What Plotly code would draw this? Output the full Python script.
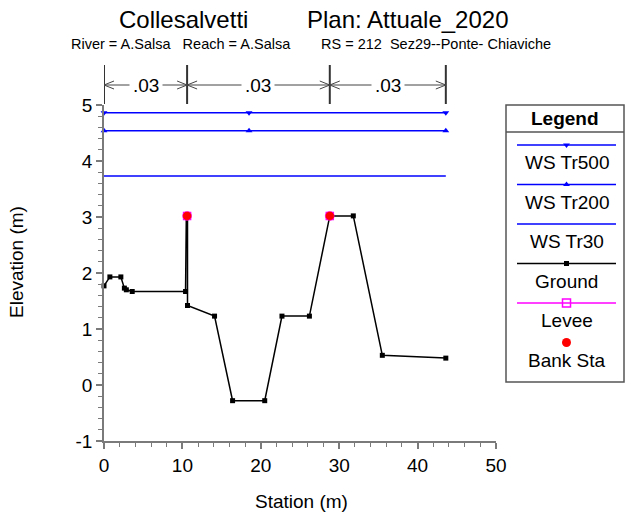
import plotly.graph_objects as go

W, H = 629, 517
FONT = "Liberation Sans, Arial, sans-serif"

# ---- cross-section data ----
ground_sta = [0, 0.75, 2.15, 2.6, 2.85, 3.6, 10.4, 10.5, 10.65, 10.65, 14.1,
              16.4, 20.5, 22.7, 26.2, 28.8, 31.8, 35.5, 43.6]
ground_elev = [1.77, 1.93, 1.93, 1.73, 1.70, 1.67, 1.67, 3.02, 3.02, 1.42, 1.23,
               -0.28, -0.28, 1.23, 1.23, 3.02, 3.02, 0.53, 0.48]

bank_sta = [10.6, 28.8]
bank_elev = [3.02, 3.02]
levee_sta = [10.6, 28.8]
levee_elev = [3.02, 3.02]

ws_sta = [0, 18.5, 43.6]
ws_tr500 = [4.86, 4.86, 4.86]
ws_tr200 = [4.54, 4.54, 4.54]
ws_tr30 = [3.73, 3.73, 3.73]

# Manning's n zones
n_bounds = [0, 10.6, 28.8, 43.6]
n_values = [".03", ".03", ".03"]

x_ticks = [0, 10, 20, 30, 40, 50]
y_ticks = [-1, 0, 1, 2, 3, 4, 5]
y_ticktext = ["-1", "0", "1", "2", "3", "4", "5"]

BLUE = "#0000ff"
AXIS = "#7a7a7a"


def px_x(px):
    return px / W


def px_y(py):
    return 1 - py / H


fig = go.Figure()

# water surfaces
fig.add_trace(go.Scatter(x=ws_sta, y=ws_tr500, mode="lines+markers",
                         line=dict(color=BLUE, width=1.5),
                         marker=dict(symbol="triangle-down", size=6, color=BLUE),
                         cliponaxis=False))
fig.add_trace(go.Scatter(x=ws_sta, y=ws_tr200, mode="lines+markers",
                         line=dict(color=BLUE, width=1.5),
                         marker=dict(symbol="triangle-up", size=6, color=BLUE),
                         cliponaxis=False))
fig.add_trace(go.Scatter(x=ws_sta, y=ws_tr30, mode="lines",
                         line=dict(color=BLUE, width=1.5), cliponaxis=False))
# ground
fig.add_trace(go.Scatter(x=ground_sta, y=ground_elev, mode="lines+markers",
                         line=dict(color="black", width=1.5),
                         marker=dict(symbol="square", size=5, color="black"),
                         cliponaxis=False))
# levees and bank stations
fig.add_trace(go.Scatter(x=levee_sta, y=levee_elev, mode="markers",
                         marker=dict(symbol="square-open", size=7, color="#ff00ff",
                                     line=dict(width=1.5)),
                         cliponaxis=False))
fig.add_trace(go.Scatter(x=bank_sta, y=bank_elev, mode="markers",
                         marker=dict(symbol="circle", size=9, color="#ff0000",
                                     line=dict(color="rgba(255,0,255,0.45)", width=1)),
                         cliponaxis=False))

shapes = []
annotations = []

# Manning's n markers above the plot
n_top, n_bot, n_arrow = px_y(65), px_y(104), px_y(85)
chev_dx = 10 / 7.84
chev_dy = 4 / H
for b in n_bounds:
    shapes.append(dict(type="line", xref="x", yref="paper", x0=b, x1=b,
                       y0=n_bot, y1=n_top, line=dict(color="#333333", width=2)))
for i, val in enumerate(n_values):
    a, b = n_bounds[i], n_bounds[i + 1]
    shapes.append(dict(type="line", xref="x", yref="paper", x0=a, x1=b,
                       y0=n_arrow, y1=n_arrow, line=dict(color="#444444", width=1)))
    shapes.append(dict(type="path", xref="x", yref="paper",
                       path=f"M{a + chev_dx},{n_arrow + chev_dy} L{a},{n_arrow} L{a + chev_dx},{n_arrow - chev_dy}",
                       line=dict(color="#444444", width=1)))
    shapes.append(dict(type="path", xref="x", yref="paper",
                       path=f"M{b - chev_dx},{n_arrow + chev_dy} L{b},{n_arrow} L{b - chev_dx},{n_arrow - chev_dy}",
                       line=dict(color="#444444", width=1)))
    annotations.append(dict(x=(a + b) / 2, y=n_arrow, xref="x", yref="paper",
                            text=val, bgcolor="white", borderpad=3,
                            xanchor="center", yanchor="middle",
                            font=dict(family=FONT, size=19, color="black")))

# titles
annotations += [
    dict(x=px_x(183), y=px_y(19), text="Collesalvetti", xanchor="center", yanchor="middle",
         font=dict(family=FONT, size=24, color="black")),
    dict(x=px_x(408), y=px_y(19), text="Plan: Attuale_2020", xanchor="center", yanchor="middle",
         font=dict(family=FONT, size=24, color="black")),
    dict(x=px_x(181), y=px_y(44), text="River = A.Salsa\u00a0\u00a0\u00a0Reach = A.Salsa",
         xanchor="center", yanchor="middle", font=dict(family=FONT, size=14.5, color="black")),
    dict(x=px_x(436), y=px_y(44), text="RS = 212\u00a0\u00a0Sez29--Ponte- Chiaviche",
         xanchor="center", yanchor="middle", font=dict(family=FONT, size=14.5, color="black")),
    dict(x=px_x(301), y=px_y(501), text="Station (m)", xanchor="center", yanchor="middle",
         font=dict(family=FONT, size=19, color="black")),
    dict(x=px_x(16), y=px_y(262), text="Elevation (m)", textangle=-90,
         xanchor="center", yanchor="middle", font=dict(family=FONT, size=19, color="black")),
]

# legend box
LX0, LX1, LY0, LY1 = 506, 624, 105, 382
shapes.append(dict(type="rect", xref="paper", yref="paper",
                   x0=px_x(LX0), x1=px_x(LX1), y0=px_y(LY1), y1=px_y(LY0),
                   line=dict(color="#555555", width=1.5), fillcolor="rgba(0,0,0,0)"))
shapes.append(dict(type="line", xref="paper", yref="paper",
                   x0=px_x(LX0), x1=px_x(LX1), y0=px_y(132), y1=px_y(132),
                   line=dict(color="#555555", width=1.5)))
annotations.append(dict(x=px_x(565), y=px_y(118), text="<b>Legend</b>",
                        xanchor="center", yanchor="middle",
                        font=dict(family=FONT, size=19, color="black")))

legend_items = [
    ("WS Tr500", BLUE, "triangle-down", 6, True),
    ("WS Tr200", BLUE, "triangle-up", 6, True),
    ("WS Tr30", BLUE, None, 0, True),
    ("Ground", "black", "square", 5, True),
    ("Levee", "#ff00ff", "square-open", 8, True),
    ("Bank Sta", "#ff0000", "circle", 9, False),
]
sx0, sx1, sxm = 517, 616, 566.5
for k, (name, col, sym, size, has_line) in enumerate(legend_items):
    ly = 145 + k * 39.5
    if has_line:
        fig.add_trace(go.Scatter(x=[sx0, sx1], y=[ly, ly], mode="lines",
                                 line=dict(color=col, width=1.5),
                                 xaxis="x2", yaxis="y2", cliponaxis=False))
    if sym:
        mk = dict(symbol=sym, size=size, color=col)
        if "open" in sym:
            mk["line"] = dict(width=1.5)
        fig.add_trace(go.Scatter(x=[sxm], y=[ly], mode="markers", marker=mk,
                                 xaxis="x2", yaxis="y2", cliponaxis=False))
    annotations.append(dict(x=px_x(sxm), y=px_y(ly + 17.5), text=name,
                            xanchor="center", yanchor="middle",
                            font=dict(family=FONT, size=19, color="black")))

for ann in annotations:
    ann.setdefault("xref", "paper")
    ann.setdefault("yref", "paper")
    ann.setdefault("showarrow", False)

axis_common = dict(showgrid=False, zeroline=False, showline=True, linecolor=AXIS,
                   linewidth=1.5, ticks="outside", ticklen=6, tickwidth=1.5,
                   tickcolor=AXIS, tickfont=dict(family=FONT, size=19, color="black"))

fig.update_layout(
    width=W, height=H,
    margin=dict(l=0, r=0, t=0, b=0, pad=0, autoexpand=False),
    paper_bgcolor="white", plot_bgcolor="rgba(0,0,0,0)",
    showlegend=False,
    xaxis=dict(domain=[104 / W, 496 / W], range=[0, 50], tickmode="array",
               tickvals=x_ticks, anchor="y",
               minor=dict(ticks="outside", ticklen=4, tickwidth=1.2, tickcolor=AXIS,
                          dtick=2, tick0=0),
               **axis_common),
    yaxis=dict(domain=[1 - 441 / H, 1 - 105 / H], range=[-1, 5], tickmode="array",
               tickvals=y_ticks, ticktext=y_ticktext, anchor="x",
               minor=dict(ticks="outside", ticklen=4, tickwidth=1.2, tickcolor=AXIS,
                          dtick=0.2, tick0=0),
               **axis_common),
    xaxis2=dict(domain=[0, 1], range=[0, W], visible=False, anchor="y2"),
    yaxis2=dict(domain=[0, 1], range=[H, 0], visible=False, anchor="x2"),
    shapes=shapes,
    annotations=annotations,
)

fig.write_html("out.html")
